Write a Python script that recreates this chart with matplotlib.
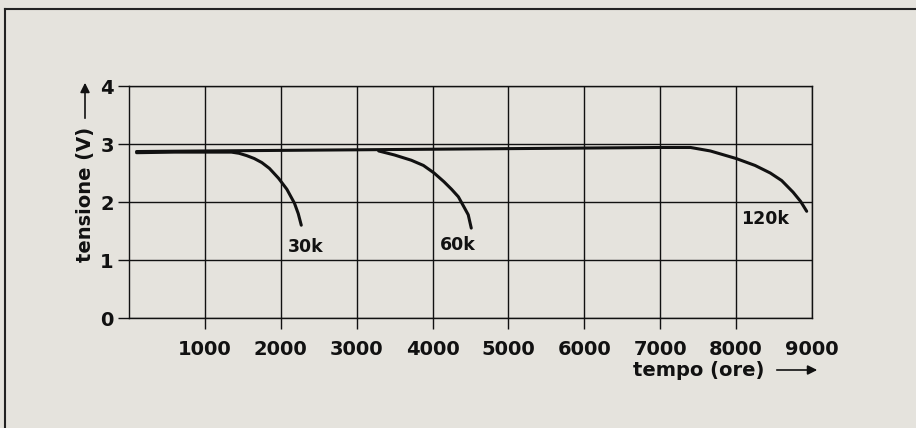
import matplotlib
matplotlib.use("Agg")
import matplotlib.pyplot as plt
from matplotlib.lines import Line2D

# dati (tempo in ore, tensione in V)
t_30k = [100, 600, 1000, 1350, 1450, 1550, 1650, 1750, 1850, 1970, 2080, 2180, 2230, 2270]
v_30k = [2.85, 2.86, 2.86, 2.86, 2.84, 2.80, 2.75, 2.68, 2.58, 2.41, 2.22, 1.98, 1.80, 1.60]

t_60k = [3290, 3500, 3720, 3880, 4020, 4150, 4250, 4340, 4420, 4470, 4510]
v_60k = [2.88, 2.81, 2.72, 2.63, 2.50, 2.35, 2.22, 2.09, 1.90, 1.78, 1.55]

t_120k = [100, 1000, 2000, 3000, 4000, 5000, 6000, 7000, 7400, 7660, 8000, 8250, 8450, 8600, 8750, 8850, 8930]
v_120k = [2.87, 2.88, 2.89, 2.90, 2.91, 2.92, 2.93, 2.94, 2.94, 2.88, 2.75, 2.63, 2.50, 2.37, 2.17, 2.01, 1.84]

labels = ["30k", "60k", "120k"]
label_pos = [(2100, 1.22), (4090, 1.26), (8060, 1.71)]

xticks = [1000, 2000, 3000, 4000, 5000, 6000, 7000, 8000, 9000]
yticks = [0, 1, 2, 3, 4]

bg = "#e5e3dd"
plt.rcParams["font.family"] = "DejaVu Sans"
plt.rcParams["font.weight"] = "bold"

fig = plt.figure(figsize=(9.16, 4.28), dpi=100, facecolor=bg)
ax = fig.add_axes([129 / 916, 1 - 318 / 428, (812 - 129) / 916, (318 - 86) / 428])
ax.set_facecolor(bg)

for t, v in [(t_30k, v_30k), (t_60k, v_60k), (t_120k, v_120k)]:
    ax.plot(t, v, color="#111111", lw=2.2, solid_capstyle="round", zorder=3)

for lab, (x, y) in zip(labels, label_pos):
    ax.text(x, y, lab, fontsize=12.5, fontweight="bold", color="#111111", va="center", ha="left")

ax.set_xlim(0, 9000)
ax.set_ylim(0, 4)
ax.set_xticks(xticks)
ax.set_yticks(yticks)
ax.grid(True, color="#111111", lw=1.0)
ax.set_axisbelow(True)
for s in ax.spines.values():
    s.set_color("#111111")
    s.set_linewidth(1.0)
ax.tick_params(axis="x", length=8, width=1.0, pad=8, labelsize=14, colors="#111111")
ax.tick_params(axis="y", length=8, width=1.0, pad=3, labelsize=14, colors="#111111")
ax.xaxis.get_major_ticks()[-1].tick1line.set_visible(False)

# etichette assi con frecce
fig.text(699 / 916, 1 - 370 / 428, "tempo (ore)", fontsize=14, fontweight="bold",
         ha="center", va="center", color="#111111")
fig.text(85 / 916, 1 - 194 / 428, "tensione (V)", fontsize=14, fontweight="bold",
         ha="center", va="center", rotation=90, color="#111111")
ax.annotate("", xy=(820 / 916, 1 - 370 / 428), xytext=(774 / 916, 1 - 370 / 428),
            xycoords="figure fraction",
            arrowprops=dict(arrowstyle="-|>", color="#111111", lw=1.2, mutation_scale=14))
ax.annotate("", xy=(85 / 916, 1 - 80 / 428), xytext=(85 / 916, 1 - 121 / 428),
            xycoords="figure fraction",
            arrowprops=dict(arrowstyle="-|>", color="#111111", lw=1.2, mutation_scale=14))

# cornice
fig.add_artist(Line2D([5 / 916, 1], [1 - 9 / 428, 1 - 9 / 428], color="#222222", lw=1.5))
fig.add_artist(Line2D([5 / 916, 5 / 916], [0, 1 - 9 / 428], color="#222222", lw=1.5))

fig.savefig("out.png", dpi=100, facecolor=bg)
